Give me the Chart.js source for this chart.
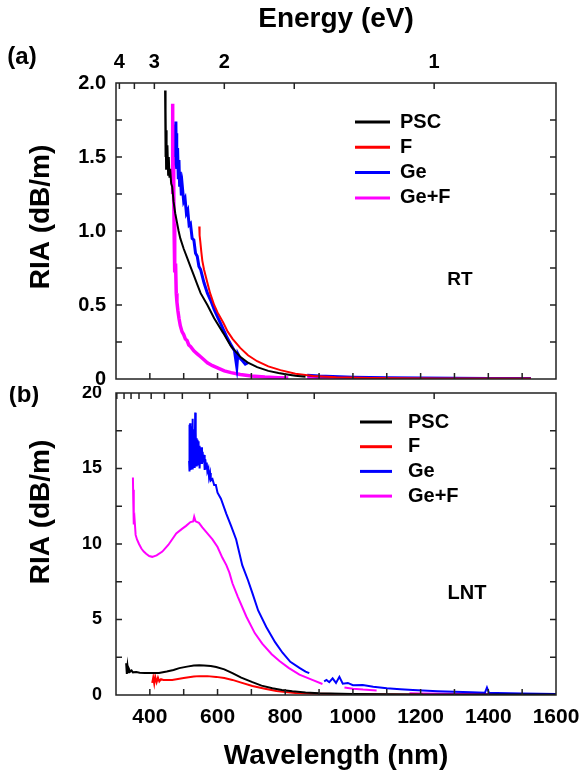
<!DOCTYPE html>
<html>
<head>
<meta charset="utf-8">
<script src="https://cdn.jsdelivr.net/npm/chart.js@4.4.1/dist/chart.umd.min.js"></script>
<style>
  html, body { margin: 0; padding: 0; background: #fff; }
  #wrap { position: relative; width: 584px; height: 773px; }
  #chartRT { position: absolute; left: 0; top: 0; }
  #chartLNT { position: absolute; left: 0; top: 386px; }
</style>
</head>
<body>
<div id="wrap">
  <canvas id="chartRT" width="584" height="386"></canvas>
  <canvas id="chartLNT" width="584" height="387"></canvas>
</div>
<script>
// RIA spectra, [wavelength nm, RIA dB/m]; null = gap in the record

// (a) room temperature
const rtPSC = [[445,1.95],[446,1.5],[447,1.82],[448,1.42],[449,1.68],[450,1.45],[452,1.58],[454,1.38],[456,1.5],[458,1.36],
  [460,1.42],[463,1.32],[466,1.3],[470,1.2],[475,1.12],[480,1.06],[485,1.0],[490,0.95],[500,0.88],[510,0.82],[520,0.76],
  [530,0.7],[540,0.64],[550,0.58],[570,0.5],[590,0.41],[617,0.31],[640,0.22],[667,0.15],[690,0.11],[717,0.08],[750,0.055],
  [780,0.04],[806,0.03],[830,0.022],[860,0.015]];
const rtF = [[546,1.03],[547,0.97],[549,0.93],[552,0.86],[555,0.8],[560,0.74],[570,0.65],[578,0.58],[590,0.5],[600,0.45],
  [617,0.38],[630,0.32],[645,0.27],[667,0.21],[690,0.16],[717,0.12],[750,0.085],[786,0.06],[830,0.035],[883,0.02],[950,0.012],
  [1050,0.007],[1150,0.005],[1250,0.004],[1350,0.003],[1450,0.003],[1526,0.003]];
const rtGe = [[476,1.5],[477,1.74],[478,1.45],[479,1.66],[480,1.42],[482,1.56],[484,1.36],[486,1.48],[488,1.3],[490,1.4],
  [493,1.24],[496,1.3],[500,1.2],[504,1.22],[508,1.12],[512,1.14],[516,1.04],[520,1.05],[525,0.95],[530,0.94],[535,0.85],
  [540,0.83],[545,0.76],[550,0.74],[560,0.65],[570,0.58],[580,0.53],[590,0.47],[600,0.42],[610,0.37],[620,0.32],[628,0.28],
  [640,0.23],[650,0.19],[657,0.08],[660,0.17],[667,0.14],[675,0.12],[682,0.1],[690,0.11],[780,null],[865,0.025],[900,0.02],
  [1000,0.012],[1100,0.008],[1200,0.006],[1300,0.005],[1400,0.004],[1526,0.003]];
const rtGeF = [[466,1.25],[467,1.86],[468,1.4],[469,1.72],[470,1.2],[471,1.3],[472,0.95],[473,1.05],[474,0.72],[476,0.78],
  [478,0.58],[480,0.52],[483,0.46],[486,0.41],[490,0.36],[495,0.32],[500,0.3],[505,0.27],[510,0.26],[515,0.23],[520,0.22],
  [530,0.19],[540,0.17],[550,0.15],[560,0.13],[570,0.11],[585,0.09],[600,0.075],[620,0.055],[640,0.043],[667,0.03],[700,0.02],
  [740,0.013],[780,0.009],[809,0.007],[840,null],[865,0.004],[950,0.003],[1050,0.003],[1150,0.002],[1250,0.002],
  [1350,0.002],[1450,0.002],[1526,0.002]];

// (b) liquid nitrogen temperature
const lntPSC = [[330,2.1],[332,1.4],[334,1.9],[336,1.5],[338,1.75],[342,1.55],[346,1.62],[350,1.5],[360,1.52],[370,1.48],
  [385,1.46],[400,1.45],[427,1.45],[450,1.55],[470,1.66],[487,1.78],[510,1.88],[530,1.95],[546,1.97],[560,1.96],[580,1.92],
  [596,1.85],[620,1.7],[644,1.45],[670,1.15],[703,0.85],[730,0.62],[762,0.45],[790,0.33],[821,0.25],[860,0.17],[900,0.12],
  [1000,0.07],[1100,0.05],[1200,0.04],[1300,0.03],[1400,0.03],[1500,0.03],[1600,0.03]];
const lntF = [[407,0.8],[410,1.15],[413,0.75],[416,1.2],[420,0.85],[424,1.15],[428,0.9],[433,1.05],[440,1.0],[466,1.0],
  [500,1.12],[530,1.22],[546,1.25],[570,1.25],[596,1.2],[620,1.12],[644,1.0],[670,0.82],[703,0.6],[740,0.42],[774,0.27],
  [800,0.2],[830,0.14],[870,0.1],[900,0.08],[950,0.06],[1000,0.05],[1100,0.04],[1206,0.03]];
const lntGe = [[516,15.5],[516.5,17.2],[517,14.8],[517.5,17.9],[518,15.0],[519,18.0],[519.5,15.4],[520,17.3],[521,14.9],
  [522,17.0],[523,15.2],[524,17.8],[525,15.0],[526,18.3],[527,15.4],[528,17.2],[529,15.6],[530,17.6],[531,15.1],[532,17.0],
  [533,15.8],[534,18.7],[535,15.5],[536,17.4],[537,15.2],[538,17.0],[539,15.8],[540,16.9],[541,15.2],[543,16.8],[544,15.4],
  [546,16.5],[547,15.0],[549,16.2],[550,15.3],[552,16.4],[554,15.3],[556,16.1],[558,15.4],[560,15.9],[562,14.9],[564,15.6],
  [566,15.0],[568,15.4],[570,14.8],[573,15.0],[575,14.4],[578,14.7],[580,14.2],[585,14.3],[590,13.9],[595,13.9],[600,13.4],
  [610,13.0],[626,12.0],[640,11.2],[655,10.3],[673,8.6],[690,7.6],[703,6.75],[720,5.6],[744,4.5],[770,3.5],[792,2.8],
  [815,2.2],[842,1.8],[860,1.55],[871,1.45],[895,null],[915,0.9],[922,1.0],[930,0.85],[940,1.1],[950,0.8],[960,1.2],
  [970,0.75],[985,0.8],[1000,0.65],[1029,0.66],[1060,0.55],[1100,0.45],[1140,0.38],[1177,0.33],[1250,0.25],[1300,0.22],
  [1350,0.18],[1390,0.15],[1396,0.5],[1402,0.15],[1425,0.13],[1500,0.1],[1600,0.07]];
const lntGeF = [[350,14.4],[351,12.9],[352,13.6],[353,11.3],[355,11.6],[358,10.6],[362,10.3],[368,10.0],[375,9.7],[382,9.5],
  [389,9.35],[398,9.2],[407,9.15],[420,9.25],[437,9.5],[455,9.95],[478,10.7],[495,11.0],[507,11.2],[520,11.45],[528,11.5],
  [531,11.8],[535,11.5],[545,11.4],[555,11.1],[570,10.7],[585,10.3],[600,9.8],[614,9.1],[626,8.6],[635,8.1],[644,7.4],
  [660,6.5],[685,5.2],[710,4.1],[732,3.4],[760,2.7],[783,2.25],[810,1.8],[842,1.35],[880,1.0],[910,0.73],[940,null],
  [975,0.5],[1000,0.42],[1030,0.36],[1070,0.3],[1120,null],[1167,0.12],[1200,0.1],[1300,0.08],[1400,0.07],[1500,0.06],
  [1600,0.05]];

const seriesNames = ['PSC', 'F', 'Ge', 'Ge+F'];
const seriesColors = ['#000000', '#ff0000', '#0000ff', '#ff00ff'];
const rtWidths = [2, 2, 3, 3.5];
const lntWidths = [2, 2, 2, 2];

// axis ticks
const wlLabels = [400, 600, 800, 1000, 1200, 1400, 1600];
const wlMinor = [400, 500, 600, 700, 800, 900, 1000, 1100, 1200, 1300, 1400, 1500];
const energyLabels = [4, 3, 2, 1];
const energyMinorA = [4, 3.5, 3, 2, 1.5, 1];
const energyMinorB = [4.1, 3.83, 3.6, 3.37, 3.07, 2.8, 2.5, 2.15, 1.8, 1.4, 1.0];
const rtYLabels = [0, 0.5, 1.0, 1.5, 2.0];
const rtYMinor = [0.25, 0.5, 0.75, 1.0, 1.25, 1.5, 1.75];
const lntYLabels = [0, 5, 10, 15, 20];
const lntYMinor = [2.5, 5, 7.5, 10, 12.5, 15, 17.5];

const FONT = "'Liberation Sans', Arial, sans-serif";
Chart.defaults.font.family = FONT;
Chart.defaults.font.weight = 'bold';
Chart.defaults.color = '#000';

function toPoints(pairs) {
    return pairs.map(p => ({ x: p[0], y: p[1] }));
}

function buildDatasets(list, widths) {
    return list.map((pairs, i) => ({
        label: seriesNames[i],
        data: toPoints(pairs),
        borderColor: seriesColors[i],
        backgroundColor: seriesColors[i],
        borderWidth: widths[i],
        pointRadius: 0,
        tension: 0,
        spanGaps: false
    }));
}

// frame + inward ticks on all four sides
const frameTicks = {
    id: 'frameTicks',
    afterDatasetsDraw(chart, args, opts) {
        const { ctx, chartArea: a, scales } = chart;
        const len = 6;
        ctx.save();
        ctx.strokeStyle = '#222';
        ctx.lineWidth = 1.5;
        ctx.beginPath();
        opts.xTicks.forEach(v => {
            const px = scales.x.getPixelForValue(v);
            ctx.moveTo(px, a.bottom);
            ctx.lineTo(px, a.bottom - len);
        });
        opts.topEnergies.forEach(e => {
            const px = scales.x.getPixelForValue(1240 / e);
            ctx.moveTo(px, a.top);
            ctx.lineTo(px, a.top + len);
        });
        opts.yTicks.forEach(v => {
            const py = scales.y.getPixelForValue(v);
            ctx.moveTo(a.left, py);
            ctx.lineTo(a.left + len, py);
            ctx.moveTo(a.right, py);
            ctx.lineTo(a.right - len, py);
        });
        ctx.stroke();
        ctx.strokeRect(a.left, a.top, a.right - a.left, a.bottom - a.top);
        ctx.restore();
    }
};

// legend inside the plot
const insideLegend = {
    id: 'insideLegend',
    afterDraw(chart, args, opts) {
        const ctx = chart.ctx;
        ctx.save();
        ctx.font = 'bold 20px ' + FONT;
        ctx.textBaseline = 'middle';
        ctx.textAlign = 'left';
        chart.data.datasets.forEach((ds, i) => {
            const y = opts.y + i * opts.gap;
            ctx.strokeStyle = ds.borderColor;
            ctx.lineWidth = 3;
            ctx.beginPath();
            ctx.moveTo(opts.x, y);
            ctx.lineTo(opts.x + opts.lineLen, y);
            ctx.stroke();
            ctx.fillStyle = '#000';
            ctx.fillText(ds.label, opts.textX, y);
        });
        ctx.restore();
    }
};

// free text: panel letters, condition, y title
const notes = {
    id: 'notes',
    afterDraw(chart, args, opts) {
        const ctx = chart.ctx;
        opts.items.forEach(n => {
            ctx.save();
            ctx.font = 'bold ' + n.size + 'px ' + FONT;
            ctx.fillStyle = '#000';
            ctx.textAlign = 'center';
            ctx.textBaseline = 'middle';
            ctx.translate(n.x, n.y);
            if (n.rotate) ctx.rotate(-Math.PI / 2);
            ctx.fillText(n.text, 0, 0);
            ctx.restore();
        });
    }
};

// pin axis boxes so the plot frame lands where the figure has it
function fixedWidth(w) {
    return s => { s.width = w; s.paddingTop = 0; s.paddingBottom = 0; };
}
function fixedHeight(h) {
    return s => { s.height = h; s.paddingLeft = 0; s.paddingRight = 0; };
}

// (a) RT
new Chart(document.getElementById('chartRT'), {
    type: 'line',
    data: { datasets: buildDatasets([rtPSC, rtF, rtGe, rtGeF], rtWidths) },
    options: {
        responsive: false,
        animation: false,
        layout: { padding: { top: 0, right: 28, bottom: 0, left: 0 } },
        plugins: {
            legend: { display: false },
            tooltip: { enabled: false },
            frameTicks: { xTicks: wlMinor, topEnergies: energyMinorA, yTicks: rtYMinor },
            insideLegend: { x: 355, y: 122, gap: 25.3, lineLen: 35, textX: 400 },
            notes: { items: [
                { text: '(a)', x: 22, y: 57, size: 24 },
                { text: 'RT', x: 460, y: 280, size: 19 },
                { text: 'RIA (dB/m)', x: 41, y: 217, size: 28, rotate: true }
            ] }
        },
        scales: {
            x: {
                type: 'linear', position: 'bottom', min: 300, max: 1600,
                grid: { display: false, drawTicks: false }, border: { display: false },
                ticks: { display: false },
                afterFit: fixedHeight(7)
            },
            xTop: {
                type: 'linear', position: 'top', min: 300, max: 1600,
                grid: { display: false, drawTicks: false }, border: { display: false },
                afterBuildTicks: s => { s.ticks = energyLabels.map(e => ({ value: 1240 / e })); },
                ticks: {
                    autoSkip: false, maxRotation: 0, padding: 9,
                    font: { size: 20, weight: 'bold' },
                    callback: (v, i) => String(energyLabels[i])
                },
                title: { display: true, text: 'Energy (eV)', font: { size: 28, weight: 'bold' }, padding: { top: 2, bottom: 0 } },
                afterFit: fixedHeight(83)
            },
            y: {
                type: 'linear', position: 'left', min: 0, max: 2,
                grid: { display: false, drawTicks: false }, border: { display: false },
                afterBuildTicks: s => { s.ticks = rtYLabels.map(v => ({ value: v })); },
                ticks: {
                    padding: 10,
                    font: { size: 20, weight: 'bold' },
                    callback: v => v === 0 ? '0' : v.toFixed(1)
                },
                afterFit: fixedWidth(116)
            }
        }
    },
    plugins: [frameTicks, insideLegend, notes]
});

// (b) LNT
new Chart(document.getElementById('chartLNT'), {
    type: 'line',
    data: { datasets: buildDatasets([lntPSC, lntF, lntGe, lntGeF], lntWidths) },
    options: {
        responsive: false,
        animation: false,
        layout: { padding: { top: 7, right: 28, bottom: 0, left: 0 } },
        plugins: {
            legend: { display: false },
            tooltip: { enabled: false },
            frameTicks: { xTicks: wlMinor, topEnergies: energyMinorB, yTicks: lntYMinor },
            insideLegend: { x: 360, y: 36, gap: 24.7, lineLen: 32, textX: 408 },
            notes: { items: [
                { text: '(b)', x: 24, y: 9, size: 24 },
                { text: 'LNT', x: 467, y: 207, size: 20 },
                { text: 'RIA (dB/m)', x: 41, y: 126, size: 28, rotate: true }
            ] }
        },
        scales: {
            x: {
                type: 'linear', position: 'bottom', min: 300, max: 1600,
                grid: { display: false, drawTicks: false }, border: { display: false },
                afterBuildTicks: s => { s.ticks = wlLabels.map(v => ({ value: v })); },
                ticks: {
                    autoSkip: false, maxRotation: 0, padding: 10,
                    font: { size: 21, weight: 'bold' },
                    callback: v => String(v)
                },
                title: { display: true, text: 'Wavelength (nm)', font: { size: 28, weight: 'bold' }, padding: { top: 0, bottom: 0 } },
                afterFit: fixedHeight(78)
            },
            y: {
                type: 'linear', position: 'left', min: 0, max: 20,
                grid: { display: false, drawTicks: false }, border: { display: false },
                afterBuildTicks: s => { s.ticks = lntYLabels.map(v => ({ value: v })); },
                ticks: {
                    padding: 14,
                    font: { size: 18, weight: 'bold' }
                },
                afterFit: fixedWidth(116)
            }
        }
    },
    plugins: [frameTicks, insideLegend, notes]
});
</script>
</body>
</html>
